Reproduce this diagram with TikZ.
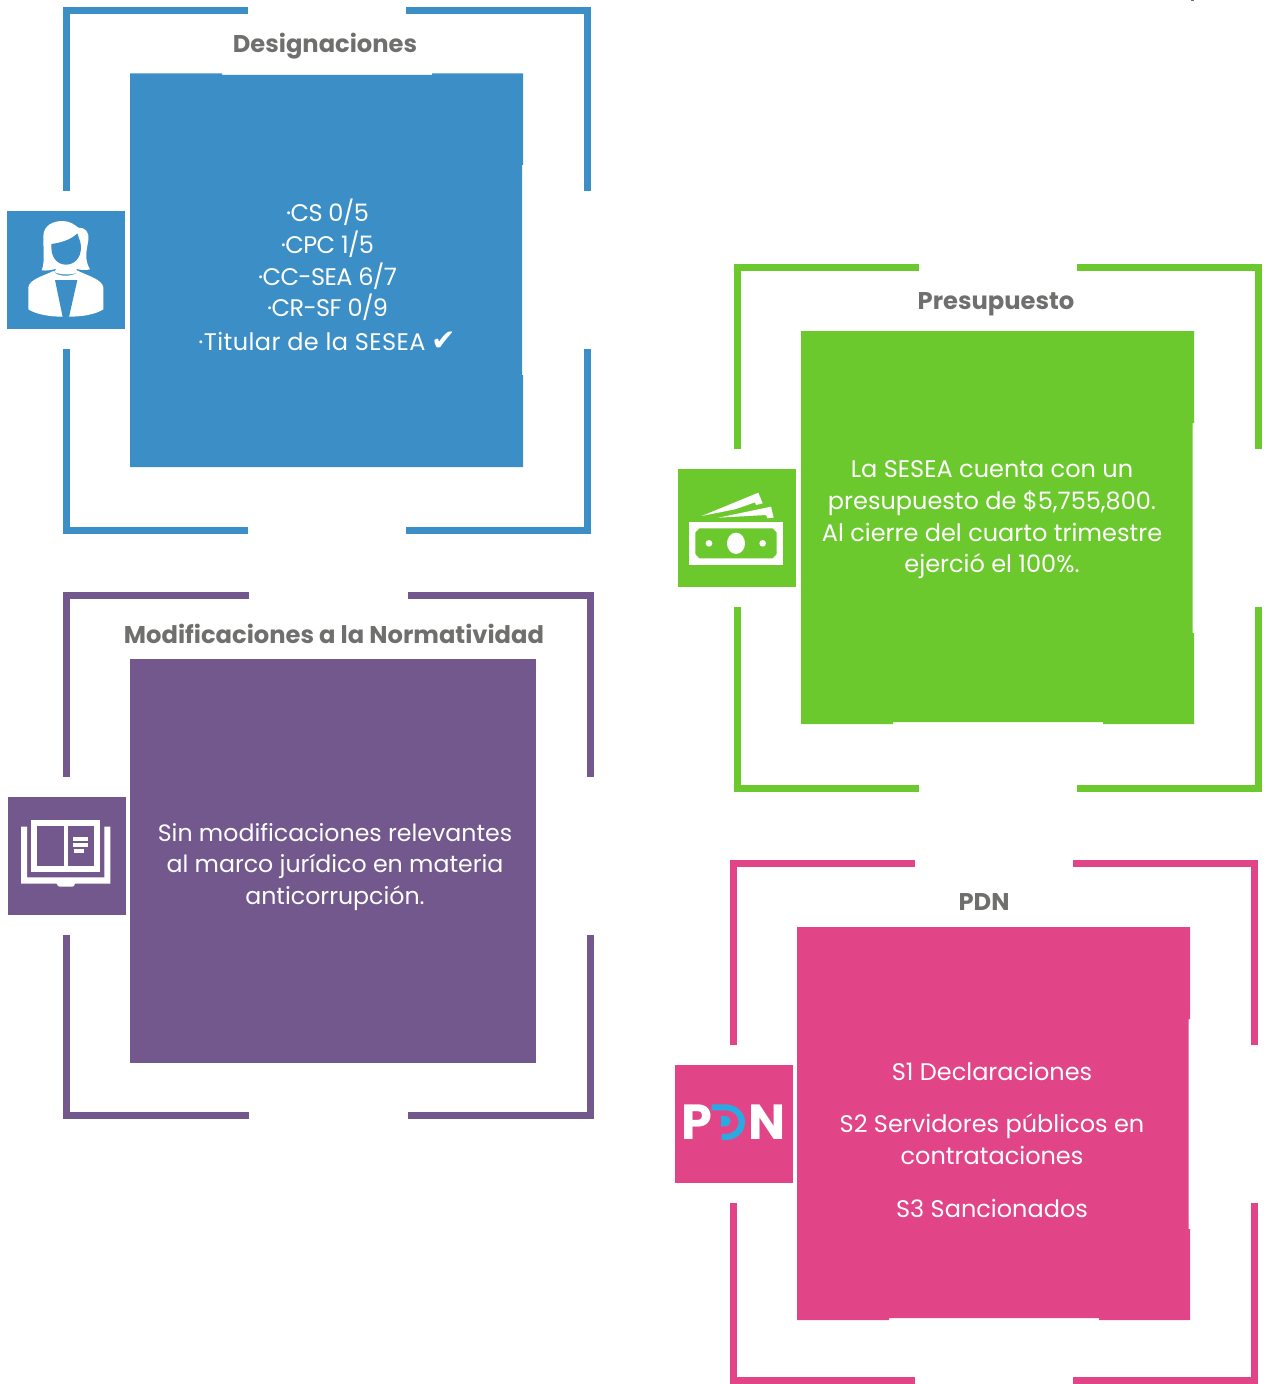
\documentclass[tikz,border=0pt]{standalone}
\usepackage{fontspec}
\setmainfont{Poppins}
\newfontfamily\symfont{DejaVu Sans}
\definecolor{cblue}{HTML}{3C8FC6}
\definecolor{cgreen}{HTML}{6BC92D}
\definecolor{cpurple}{HTML}{73588E}
\definecolor{cpink}{HTML}{E24587}
\definecolor{ctitle}{HTML}{6F6F6E}
\definecolor{ccyan}{HTML}{29ABE2}
\newcommand{\tightspace}{\addfontfeature{LetterSpace=-2.5}}
\newcommand{\widespace}{\addfontfeature{LetterSpace=1.7}}
\tikzset{
  px/.style={x=0.75pt,y=-0.75pt},
  bracket/.style={line width=5pt,line cap=butt,line join=miter},
  panelhead/.style={font=\fontsize{18.15pt}{22pt}\selectfont\bfseries,text=ctitle,inner sep=0pt,anchor=base},
  paneltext/.style={font=\fontsize{18pt}{23.7pt}\selectfont,text=white,align=center,inner sep=0pt},
  logotext/.style={font=\fontsize{37pt}{37pt}\selectfont\bfseries,text=white,inner sep=0pt},
}
% #1 colour, #2 left, #3 right, #4 top, #5 bottom, #6 gapL, #7 gapR, #8 gapT, #9 gapB
\newcommand{\cornerframe}[9]{%
  \draw[bracket,#1] (#6,#4) -- (#2,#4) -- (#2,#8);
  \draw[bracket,#1] (#7,#4) -- (#3,#4) -- (#3,#8);
  \draw[bracket,#1] (#6,#5) -- (#2,#5) -- (#2,#9);
  \draw[bracket,#1] (#7,#5) -- (#3,#5) -- (#3,#9);
}
\begin{document}
\begin{tikzpicture}[px]
\useasboundingbox (0,0) rectangle (1265,1384);
% frames
\cornerframe{cblue}{66.3}{587.7}{10.3}{530.7}{248}{406}{191}{349}
\cornerframe{cpurple}{66.3}{590.7}{595.3}{1115.7}{249}{408}{777}{935}
\cornerframe{cgreen}{737.3}{1258.7}{267.3}{788.7}{919}{1077}{449}{607}
\cornerframe{cpink}{733.3}{1254.7}{863.3}{1380.7}{915}{1073}{1045}{1203}
% panels
\fill[cblue] (130,73.5) -- (222,73.5) -- (222,75) -- (432,75) -- (432,73.5) -- (523,73.5) -- (523,165) -- (522,165) -- (522,375) -- (523,375) -- (523,467) -- (130,467) -- cycle;
\fill[cpurple] (130,659) rectangle (536,1063);
\fill[cgreen] (801,331) -- (1194,331) -- (1194,423) -- (1192.5,423) -- (1192.5,633) -- (1194,633) -- (1194,724) -- (1103,724) -- (1103,722) -- (893,722) -- (893,724) -- (801,724) -- cycle;
\fill[cpink] (797,927) -- (1190,927) -- (1190,1019) -- (1188.5,1019) -- (1188.5,1229) -- (1190,1229) -- (1190,1320) -- (1099,1320) -- (1099,1318) -- (889,1318) -- (889,1320) -- (797,1320) -- cycle;
% icon squares
\fill[cblue] (7,211) rectangle (125,329);
\fill[cgreen] (678,469) rectangle (796,587);
\fill[cpurple] (8,797) rectangle (126,915);
\fill[cpink] (675,1065) rectangle (793,1183);
% person icon
\begin{scope}[shift={(0,190)},x=0.25pt,y=-0.25pt]
\fill[white] (85,358) -- (85,292) .. controls (88,268) and (130,258) .. (160,243) .. controls (172,262) and (222,262) .. (235,243) .. controls (265,258) and (306,268) .. (310,292) -- (310,358) .. controls (285,374) and (245,380) .. (207,380) -- (188,380) .. controls (150,380) and (110,374) .. (85,358) -- cycle;
\fill[cblue] (165,270) -- (232,270) -- (207,381) -- (188,381) -- cycle;
\fill[white] (125,241) .. controls (135,215) and (130,190) .. (130,140) .. controls (130,105) and (160,93) .. (188,93) .. controls (210,93) and (225,105) .. (235,113) .. controls (255,112) and (268,125) .. (265,150) .. controls (262,175) and (250,205) .. (270,238) .. controls (255,242) and (240,240) .. (228,236) .. controls (230,240) and (232,243) .. (235,246) .. controls (215,256) and (185,256) .. (162,246) .. controls (165,243) and (168,240) .. (170,236) .. controls (155,240) and (140,243) .. (125,241) -- cycle;
\fill[cblue] (154,162) .. controls (185,158) and (215,148) .. (232,130) .. controls (236,145) and (243,155) .. (243,172) .. controls (243,205) and (222,224) .. (198,224) .. controls (174,224) and (154,205) .. (154,172) -- cycle;
\end{scope}
% money icon
\begin{scope}[shift={(670,450)},x=0.25pt,y=-0.25pt]
\fill[white] (57,216) rectangle (340,345);
\fill[cgreen] (88,235) -- (308,235) -- (320,248) -- (320,312) -- (308,325) -- (88,325) -- (76,312) -- (76,248) -- cycle;
\fill[white] (198,280) ellipse [x radius=27,y radius=32];
\fill[white] (117,280) circle [radius=10];
\fill[white] (278,280) circle [radius=10];
\fill[white] (95,198) -- (265,128) -- (278,160) -- (258,165) -- (255,157) -- (195,178) -- cycle;
\fill[white] (145,203) -- (303,170) -- (311,203) -- (292,205) -- (288,195) -- cycle;
\end{scope}
% book icon
\begin{scope}[shift={(0,780)},x=0.25pt,y=-0.25pt]
\fill[white] (63,140) -- (81,140) -- (81,292) -- (313,292) -- (313,140) -- (331,140) -- (331,311) -- (225,311) .. controls (224,318) and (220,320) .. (216,320) -- (180,320) .. controls (176,320) and (172,318) .. (170,311) -- (63,311) -- cycle;
\fill[white] (93,121) rectangle (301,277);
\fill[cpurple] (111,139) rectangle (191,259);
\fill[cpurple] (203,139) rectangle (283,259);
\fill[white] (219,171) rectangle (265,184);
\fill[white] (219,189) rectangle (265,201);
\fill[white] (222,207) rectangle (252,219);
\end{scope}
% PDN logo
\begin{scope}[shift={(665,1050)},x=0.25pt,y=-0.25pt]
\fill[ccyan] (140,163) -- (180,163) .. controls (215,163) and (240,187) .. (240,216) .. controls (240,247) and (215,270) .. (180,270) -- (170,270) -- (170,252) -- (180,252) .. controls (205,252) and (221,236) .. (221,216) .. controls (221,196) and (205,181) .. (180,181) -- (140,181) -- cycle;
\fill[ccyan] (168,198) -- (180,198) .. controls (190,198) and (197,206) .. (197,213) .. controls (197,222) and (190,229) .. (180,229) -- (168,229) -- cycle;
\end{scope}
\node[logotext] (logoP) at (697,1122) {P};
\node[logotext] (logoN) at (767,1122) {N};
% small mark on the top edge
\fill[ctitle] (1191,0) rectangle (1194,1);
% titles
\node[panelhead] (t1) at (325,53) {Designaciones};
\node[panelhead] (t2) at (334,643) {Modificaciones a la Normatividad};
\node[panelhead] (t3) at (996,309) {Presupuesto};
\node[panelhead] (t4) at (984,910) {PDN};
% body text
\node[paneltext] (b1) at (327.5,275) {{\tightspace ·CS 0/5}\\{\tightspace ·CPC 1/5}\\{\tightspace ·CC-SEA 6/7}\\{\tightspace ·CR-SF 0/9}\\[1.5pt]{\widespace ·Titular de la SESEA} \smash{\fontsize{22pt}{22pt}\symfont\char"2714}};
\node[paneltext,font=\fontsize{17.75pt}{23.7pt}\selectfont] (b2) at (335,867) {Sin modificaciones relevantes\\al marco jurídico en materia\\anticorrupción.};
\node[paneltext] (b3) at (992,520) {La SESEA cuenta con un\\presupuesto de \$5,755,800.\\Al cierre del cuarto trimestre\\ejerció el 100\%.};
\node[paneltext] (b4a) at (992,1071) {S1 Declaraciones};
\node[paneltext] (b4b) at (992,1139.5) {S2 Servidores públicos en\\contrataciones};
\node[paneltext] (b4c) at (992,1208) {S3 Sancionados};
\end{tikzpicture}
\end{document}
